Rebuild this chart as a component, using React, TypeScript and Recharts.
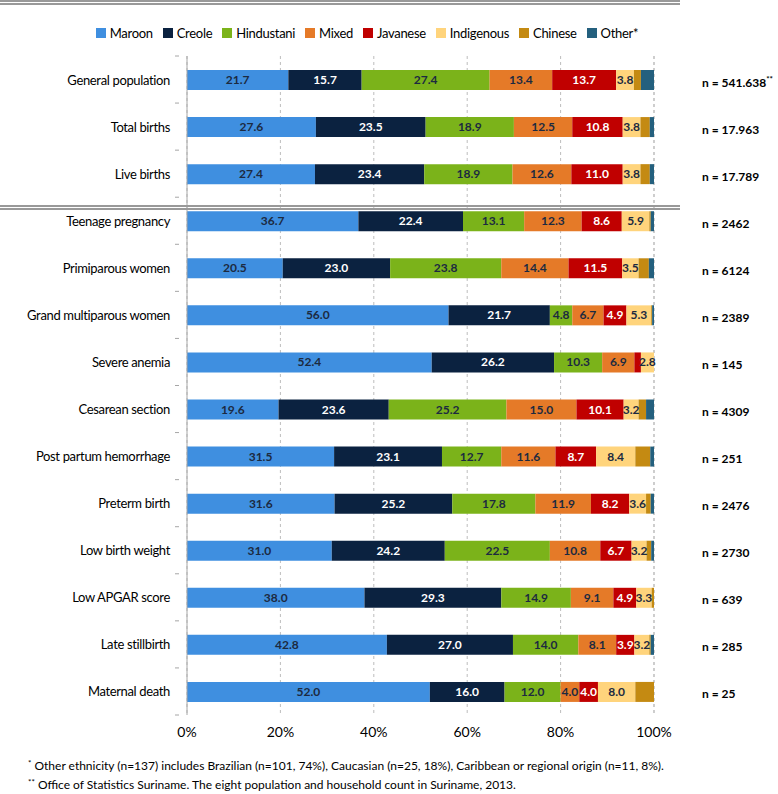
import React from 'react';
import { BarChart, Bar, XAxis, YAxis, CartesianGrid, LabelList } from 'recharts';

const categories = [
  'General population', 'Total births', 'Live births', 'Teenage pregnancy', 'Primiparous women',
  'Grand multiparous women', 'Severe anemia', 'Cesarean section', 'Post partum hemorrhage',
  'Preterm birth', 'Low birth weight', 'Low APGAR score', 'Late stillbirth', 'Maternal death',
];
const maroon = [21.7, 27.6, 27.4, 36.7, 20.5, 56.0, 52.4, 19.6, 31.5, 31.6, 31.0, 38.0, 42.8, 52.0];
const creole = [15.7, 23.5, 23.4, 22.4, 23.0, 21.7, 26.2, 23.6, 23.1, 25.2, 24.2, 29.3, 27.0, 16.0];
const hindustani = [27.4, 18.9, 18.9, 13.1, 23.8, 4.8, 10.3, 25.2, 12.7, 17.8, 22.5, 14.9, 14.0, 12.0];
const mixed = [13.4, 12.5, 12.6, 12.3, 14.4, 6.7, 6.9, 15.0, 11.6, 11.9, 10.8, 9.1, 8.1, 4.0];
const javanese = [13.7, 10.8, 11.0, 8.6, 11.5, 4.9, 1.4, 10.1, 8.7, 8.2, 6.7, 4.9, 3.9, 4.0];
const indigenous = [3.8, 3.8, 3.8, 5.9, 3.5, 5.3, 2.8, 3.2, 8.4, 3.6, 3.2, 3.3, 3.2, 8.0];
const chinese = [1.5, 2.0, 2.0, 0.3, 2.2, 0.2, 0, 1.6, 3.2, 1.0, 1.0, 0.5, 0.3, 4.0];
const other = [2.8, 0.9, 0.9, 0.7, 1.1, 0.4, 0, 1.7, 0.8, 0.7, 0.6, 0, 0.7, 0];
const sampleSizes = ['541.638', '17.963', '17.789', '2462', '6124', '2389', '145', '4309', '251', '2476', '2730', '639', '285', '25'];
const xTicks = [0, 20, 40, 60, 80, 100];

// Chinese and Other carry no value labels in the original
const series = [
  { key: 'Maroon', values: maroon, color: '#3f8fe0', text: '#1c2a40', labelled: true },
  { key: 'Creole', values: creole, color: '#0b2240', text: '#ffffff', labelled: true },
  { key: 'Hindustani', values: hindustani, color: '#7bb31a', text: '#1c2a40', labelled: true },
  { key: 'Mixed', values: mixed, color: '#e57a28', text: '#1c2a40', labelled: true },
  { key: 'Javanese', values: javanese, color: '#c00000', text: '#ffffff', labelled: true },
  { key: 'Indigenous', values: indigenous, color: '#ffd47c', text: '#1c2a40', labelled: true },
  { key: 'Chinese', values: chinese, color: '#c48a12', text: '#1c2a40', labelled: false },
  { key: 'Other*', values: other, color: '#24607e', text: '#ffffff', labelled: false },
];

const data = categories.map((name, i) => {
  const row: any = { name, n: sampleSizes[i] };
  series.forEach((s) => { row[s.key] = s.values[i]; });
  return row;
});

const FONT = 'Lato, "Noto Sans", sans-serif';

const CategoryTick = ({ x, y, payload, index }: any) => {
  const half = 659 / categories.length / 2;
  return (
    <g>
      <text x={x - 9} y={y} dy={5} textAnchor="end" fontSize={13} letterSpacing={-0.35} fontFamily={FONT} fill="#000">
        {payload.value}
      </text>
      <line x1={x - 4} x2={x} y1={y + half} y2={y + half} stroke="#a6a6a6" />
      {index === 0 && <line x1={x - 4} x2={x} y1={y - half} y2={y - half} stroke="#a6a6a6" />}
    </g>
  );
};

const SampleTick = ({ x, y, payload, index }: any) => (
  <text x={x + 40} y={y} dy={7} textAnchor="start" fontSize={12} fontWeight="bold" fontFamily={FONT} fill="#000">
    n = {payload.value}
    {index === 0 && <tspan dy={-5} fontSize={8}>**</tspan>}
  </text>
);

const PercentTick = ({ x, y, payload }: any) => (
  <text x={x} y={y} dy={14} textAnchor="middle" fontSize={14} fontFamily={FONT} fill="#000">
    {payload.value}%
  </text>
);

const makeLabel = (color: string) => (props: any) => {
  const { x, y, width, height, value } = props;
  if (value == null || value < 2.5) return null;
  return (
    <text x={x + width / 2} y={y + height / 2} dy={4} textAnchor="middle" fontSize={12} fontWeight="bold" fontFamily={FONT} fill={color}>
      {Number(value).toFixed(1)}
    </text>
  );
};

const DoubleLine = ({ top }: { top: number }) => (
  <>
    <div style={{ position: 'absolute', left: 0, top, width: 680, height: 1.5, background: '#999' }} />
    <div style={{ position: 'absolute', left: 0, top: top + 3, width: 680, height: 1.5, background: '#999' }} />
  </>
);

const Mark = ({ text }: { text: string }) => (
  <span style={{ fontSize: 8, position: 'relative', top: -4 }}>{text}</span>
);

export default function App() {
  return (
    <div style={{ position: 'absolute', left: 0, top: 0, width: 778, height: 794, background: '#fff', fontFamily: FONT }}>
      <DoubleLine top={0} />
      <div style={{ position: 'absolute', top: 24, left: 0, width: 734, display: 'flex', justifyContent: 'center', gap: 10, fontSize: 13, letterSpacing: -0.3, lineHeight: '18px' }}>
        {series.map((s) => (
          <div key={s.key} style={{ display: 'flex', alignItems: 'center', gap: 4 }}>
            <span style={{ display: 'inline-block', width: 10, height: 10, background: s.color }} />
            <span>{s.key}</span>
          </div>
        ))}
      </div>
      <div style={{ position: 'absolute', left: 0, top: 0 }}>
        <BarChart width={778} height={760} data={data} layout="vertical" margin={{ top: 56, right: 0, left: 0, bottom: 15 }}>
          <CartesianGrid horizontal={false} strokeDasharray="3 3" stroke="#bdbdbd" />
          <XAxis type="number" domain={[0, 100]} ticks={xTicks} axisLine={false} tickLine={false} height={30} tick={<PercentTick />} interval={0} />
          <YAxis yAxisId="cat" type="category" dataKey="name" width={187} axisLine={{ stroke: '#a6a6a6' }} tickLine={false} tick={<CategoryTick />} interval={0} />
          <YAxis yAxisId="n" orientation="right" type="category" dataKey="n" width={124} axisLine={false} tickLine={false} tick={<SampleTick />} interval={0} />
          {series.map((s) => (
            <Bar key={s.key} yAxisId="cat" dataKey={s.key} stackId="a" fill={s.color} barSize={20} isAnimationActive={false}>
              {s.labelled && <LabelList dataKey={s.key} content={makeLabel(s.text)} />}
            </Bar>
          ))}
        </BarChart>
      </div>
      <DoubleLine top={205} />
      <div style={{ position: 'absolute', left: 28, top: 757, fontSize: 12, lineHeight: '18px', color: '#000' }}>
        <div><Mark text="*" /> Other ethnicity (n=137) includes Brazilian (n=101, 74%), Caucasian (n=25, 18%), Caribbean or regional origin (n=11, 8%).</div>
        <div><Mark text="**" /> Office of Statistics Suriname. The eight population and household count in Suriname, 2013.</div>
      </div>
    </div>
  );
}
